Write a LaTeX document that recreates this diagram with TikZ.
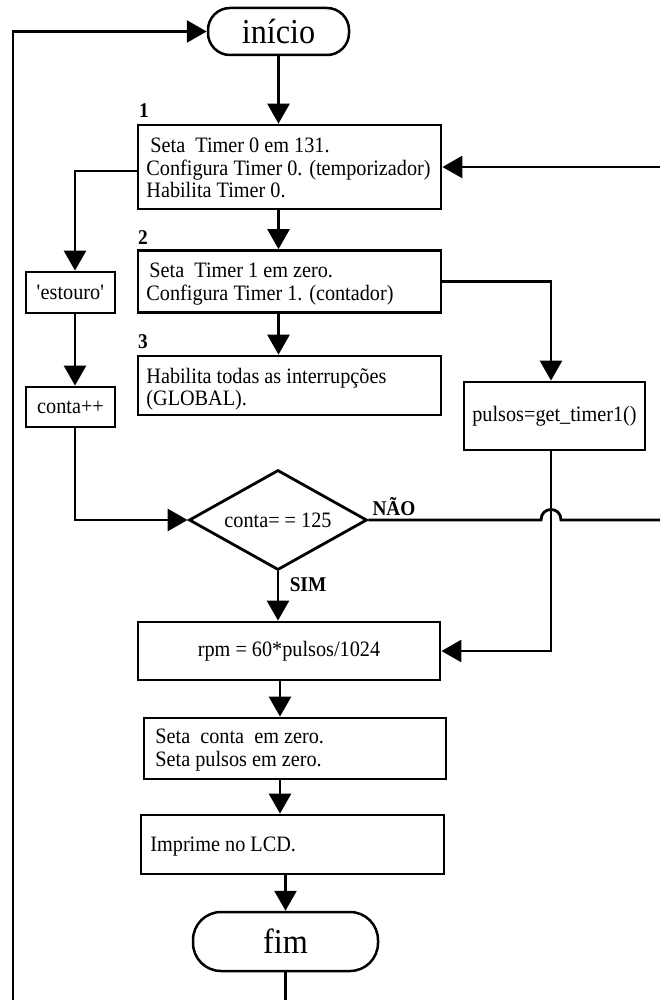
\documentclass[tikz,border=0pt]{standalone}
\usepackage{fontspec}
\setmainfont{Liberation Serif}[FakeStretch=0.92]
\usetikzlibrary{arrows.meta,shapes.geometric}
\newcommand\boxfont{\fontsize{22}{22.5}\selectfont}
\newcommand\termfont{\fontsize{35}{36}\selectfont}
\newcommand\labfont{\fontsize{21}{22}\selectfont\bfseries}
\begin{document}
\begin{tikzpicture}[x=1pt,y=-1pt,
  line width=2.8pt,
  arr/.style={-{Triangle[length=20pt,width=22pt]}},
  box/.style={draw,line width=2.8pt,inner sep=0pt,font=\boxfont},
  txt/.style={inner sep=0pt,align=left,anchor=west,font=\boxfont},
  term/.style={draw,line width=2.5pt,inner sep=0pt,font=\termfont},
  lab/.style={inner sep=0pt,font=\labfont}]
\useasboundingbox (0,0) rectangle (660,1000);

% terminals
\node[term,rounded corners=22pt,minimum width=141pt,minimum height=47pt] (inicio) at (278.5,31.5) {início};
\node[term,rounded corners=28pt,minimum width=185pt,minimum height=59pt] (fim) at (285.5,941.5) {fim};

% main boxes
\node[box,minimum width=303pt,minimum height=84pt] (b1) at (289.5,167) {};
\node[txt] (t1) at (145,168) {\hspace{4pt}Seta~~Timer 0 em 131.\\Configura Timer 0. (temporizador)\\Habilita Timer 0.};
\node[lab] (l1) at (144,111) {1};

\node[box,minimum width=303pt,minimum height=62pt] (b2) at (289.5,281.5) {};
\node[txt] (t2) at (145,284) {\hspace{3pt}Seta~~Timer 1 em zero.\\Configura Timer 1. (contador)};
\node[lab] (l2) at (143,238) {2};

\node[box,minimum width=303pt,minimum height=59pt] (b3) at (289.5,385.5) {};
\node[txt] (t3) at (145,389) {Habilita todas as interrupções\\(GLOBAL).};
\node[lab] (l3) at (143,342) {3};

\node[box,minimum width=181pt,minimum height=68pt] (pul) at (554.5,416) {pulsos=get\_timer1()};

\node[box,minimum width=89pt,minimum height=41pt] (est) at (70.5,292.5) {\textquotesingle estouro\textquotesingle};
\node[box,minimum width=89pt,minimum height=40pt] (cnt) at (70.5,407) {conta++};

\node[draw,diamond,line width=2.8pt,inner sep=0pt,aspect=1.78,minimum width=178pt,minimum height=100pt,font=\boxfont] (dia) at (278,520) {conta= = 125};
\node[lab] (nao) at (394,507) {NÃO};
\node[lab] (sim) at (308,585) {SIM};

\node[box,minimum width=302pt,minimum height=58pt] (rpm) at (289,651) {rpm = 60*pulsos/1024};

\node[box,minimum width=302pt,minimum height=61pt] (s) at (295,748.5) {};
\node[txt] (ts) at (154,750) {Seta~~conta~~em zero.\\Seta pulsos em zero.};

\node[box,minimum width=303pt,minimum height=59pt] (imp) at (292.5,844.5) {};
\node[txt] (ti) at (149,847) {Imprime no LCD.};

% helper coordinates
\coordinate (lb) at (13,1000);
\coordinate (r1) at (660,167);
\coordinate (r2) at (660,520);
\coordinate (m2) at (280,0);
\coordinate (lc) at (75,0);
\coordinate (pc) at (551,0);

% connectors
\draw[arr] (lb) |- (inicio.west);
\draw[arr] (inicio.south) -- (inicio.south |- b1.north);
\draw[arr] (b1.south -| inicio.south) -- (b2.north -| inicio.south);
\draw[arr] (b2.south -| inicio.south) -- (b3.north -| inicio.south);
\draw[arr] (r1) -- (b1.east);
\draw[arr] ([yshift=-4pt]b1.west) -| (est.north -| lc);
\draw[arr] (est.south -| lc) -- (cnt.north -| lc);
\draw[arr] (cnt.south -| lc) |- (dia.west);
\draw[arr] (b2.east) -| (pul.north -| pc);
\draw[arr] (pul.south -| pc) |- (rpm.east);
\draw (dia.east) -- (541,520) .. controls (541,506) and (561,506) .. (561,520) -- (r2);
\draw[arr] (dia.south) -- (dia.south |- rpm.north);
\draw[arr] (rpm.south -| m2) -- (s.north -| m2);
\draw[arr] (s.south -| m2) -- (imp.north -| m2);
\draw[arr] (imp.south -| fim.north) -- (fim.north);
\draw (fim.south) -- (fim.south |- lb);
\end{tikzpicture}
\end{document}
